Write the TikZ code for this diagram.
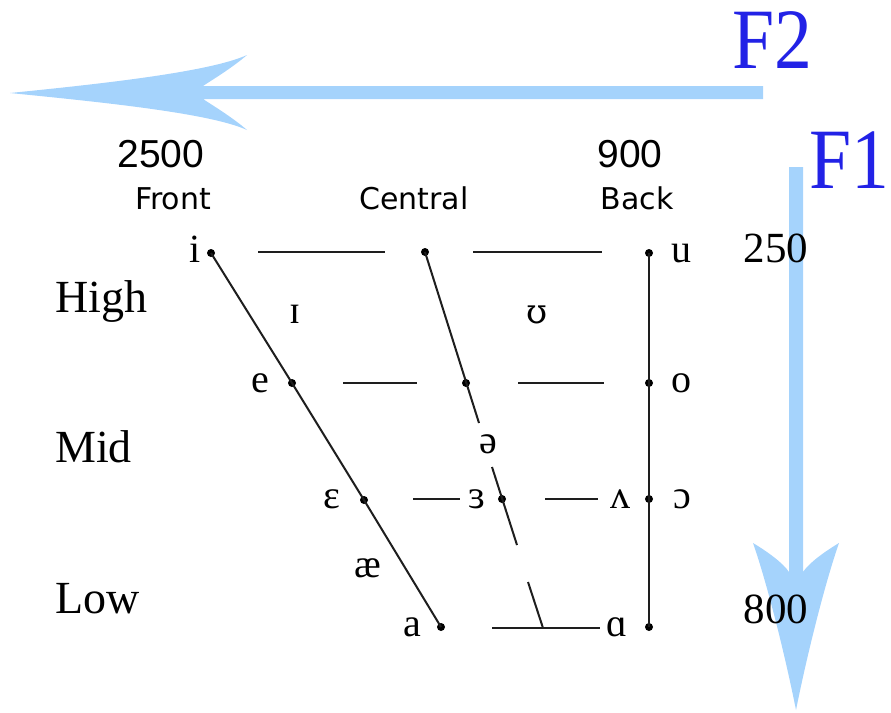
\documentclass[tikz,border=0pt]{standalone}
\usepackage{fontspec}
\setmainfont{Liberation Serif}
\newfontfamily\labfont{DejaVu Sans}
\newfontfamily\numfont{Liberation Sans}
\newfontfamily\ipafont{DejaVu Serif}
\definecolor{arrowblue}{RGB}{165,211,252}
\definecolor{fblue}{RGB}{34,34,230}
\definecolor{linegray}{RGB}{30,30,30}
\begin{document}
\begin{tikzpicture}[x=1pt,y=-1pt,
  dot/.style={circle,fill=black,inner sep=0pt,minimum size=8pt},
  vowel/.style={anchor=base,inner sep=0pt,font=\fontsize{40}{44}\selectfont},
  heightlab/.style={anchor=base west,inner sep=0pt,font=\fontsize{46}{50}\selectfont},
  placelab/.style={anchor=base,inner sep=0pt,font=\labfont\fontsize{30}{34}\selectfont},
  freqlab/.style={anchor=base,inner sep=0pt,font=\numfont\fontsize{39}{42}\selectfont},
  f1lab/.style={anchor=base,inner sep=0pt,font=\fontsize{43}{46}\selectfont},
  formant/.style={inner sep=0pt,text=fblue,font=\fontsize{86}{88}\selectfont},
  seg/.style={draw=linegray,line width=2pt},
  bigarrow/.style={fill=arrowblue,draw=none}
]
\useasboundingbox (0,0) rectangle (891,712);

% F2 arrow
\path[bigarrow] (10,93) .. controls (100,84) and (210,72) .. (247,55)
  .. controls (232,68) and (212,80) .. (203,86) -- (763,86) -- (763,99) -- (203,99)
  .. controls (212,105) and (232,117) .. (247,130)
  .. controls (210,113) and (100,102) .. cycle;
% F1 arrow
\path[bigarrow] (789,167) -- (803,167) -- (803,572)
  .. controls (809,563) and (824,552) .. (839,543)
  .. controls (826,580) and (808,650) .. (796,710)
  .. controls (784,650) and (766,580) .. (753,543)
  .. controls (768,552) and (783,563) .. (789,572) -- cycle;

\node[formant,anchor=base] (F2) at (772,68) {\scalebox{0.88}[1]{F2}};
\node[formant,anchor=base east] (F1) at (890,188) {\scalebox{0.88}[1]{F1}};

% frequency labels
\node[freqlab] (n2500) at (161,167) {2500};
\node[freqlab] (n900) at (630,167) {900};
\node[f1lab] (n250) at (776,262) {250};
\node[f1lab] (n800) at (776,623) {800};

% place labels
\node[placelab] (front) at (173,209) {Front};
\node[placelab] (central) at (414,209) {Central};
\node[placelab] (back) at (637,209) {Back};

% height labels
\node[heightlab] (high) at (55,312) {High};
\node[heightlab] (mid) at (55,462) {Mid};
\node[heightlab] (low) at (55,613) {Low};

% dots
\node[dot] (di) at (211,253) {};
\node[dot] (de) at (292,383) {};
\node[dot] (deps) at (364,500) {};
\node[dot] (da) at (441,627) {};
\node[dot] (dc1) at (425,252) {};
\node[dot] (dc2) at (466,383) {};
\node[dot] (dc3) at (502,499) {};
\node[dot] (du) at (649,253) {};
\node[dot] (do) at (649,383) {};
\node[dot] (dopen) at (649,499) {};
\node[dot] (dback) at (649,627) {};

% front and back lines
\draw[seg] (di.center) -- (de.center) -- (deps.center) -- (da.center);
\draw[seg] (du.center) -- (dback.center);

% central line (broken)
\coordinate (c1) at (479,423);
\coordinate (c2) at (492,467);
\coordinate (c3) at (517,545);
\coordinate (c4) at (528,582);
\coordinate (c5) at (543,628);
\draw[seg] (dc1.center) -- (c1);
\draw[seg] (c2) -- (c3);
\draw[seg] (c4) -- (c5);

% horizontal segments
\coordinate (h1a) at (258,252); \coordinate (h1b) at (385,252);
\coordinate (h1c) at (473,252); \coordinate (h1d) at (602,252);
\coordinate (h2a) at (343,383); \coordinate (h2b) at (417,383);
\coordinate (h2c) at (518,383); \coordinate (h2d) at (604,383);
\coordinate (h3a) at (413,499); \coordinate (h3b) at (460,499);
\coordinate (h3c) at (545,499); \coordinate (h3d) at (598,499);
\coordinate (h4a) at (492,628); \coordinate (h4b) at (600,628);
\draw[seg] (h1a) -- (h1b);
\draw[seg] (h1c) -- (h1d);
\draw[seg] (h2a) -- (h2b);
\draw[seg] (h2c) -- (h2d);
\draw[seg] (h3a) -- (h3b);
\draw[seg] (h3c) -- (h3d);
\draw[seg] (h4a) -- (h4b);

% vowel symbols
\node[vowel] (vi) at (195,262) {i};
\node[vowel] (vu) at (681,262) {u};
\node[vowel] (vI) at (295,323) {ɪ};
\node[vowel] (vU) at (537,323) {{\ipafont\fontsize{34}{40}\selectfont ʊ}};
\node[vowel] (ve) at (260,392) {e};
\node[vowel] (vo) at (681,392) {o};
\node[vowel] (vschwa) at (488,453) {ə};
\node[vowel] (veps) at (332,508) {ɛ};
\node[vowel] (vrev) at (477,508) {ɜ};
\node[vowel] (vwedge) at (620,508) {ʌ};
\node[vowel] (vopen) at (682,508) {ɔ};
\node[vowel] (vae) at (368,577) {æ};
\node[vowel] (va) at (412,636) {a};
\node[vowel] (valpha) at (617,636) {ɑ};
\end{tikzpicture}
\end{document}
